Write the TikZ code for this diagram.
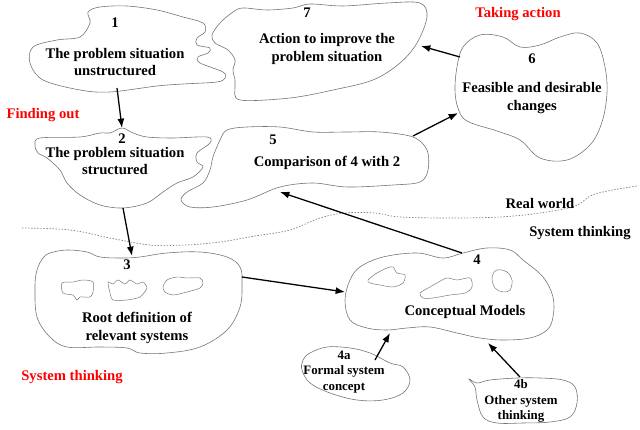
\documentclass[tikz,border=0pt]{standalone}
\usepackage{fontspec}
\setmainfont{Liberation Serif}
\usetikzlibrary{arrows.meta}
\definecolor{r255g0b0}{rgb}{1.000000,0.000000,0.000000}
\begin{document}
\begin{tikzpicture}[x=0.03cm,y=-0.03cm,
  blob/.style={draw=black!55,line width=0.5pt},
  island/.style={draw=black!55,line width=0.4pt},
  txt/.style={inner sep=0pt,align=center,font=\fontsize{12.5}{15}\selectfont\bfseries},
  smalltxt/.style={inner sep=0pt,align=center,font=\fontsize{11}{13.5}\selectfont\bfseries},
  redtxt/.style={txt,text=r255g0b0},
  flow/.style={-{Latex[length=2.8mm,width=2.1mm]},line width=1.1pt},
  border/.style={draw=black!50,line width=0.6pt,dash pattern=on 1.2pt off 1.4pt}]
\useasboundingbox (0,0) rectangle (640,430);

% Drawing cloud 1
\draw[blob] plot[smooth cycle,tension=0.55] coordinates {(88,12) (100,7) (127,6) (157,10) (183,17) (203,23) (205,32) (197,38) (197,45) (210,48) (208,53) (198,57) (200,63) (223,72) (225,78) (217,82) (183,84) (157,86) (110,92) (80,90) (43,80) (30,63) (33,47) (57,40) (80,37) (90,23)};
\node[txt] (n1) at (115,23) {1};
\node[txt] (c1) at (115,62) {The problem situation\\unstructured};

% Drawing cloud 7
\draw[blob] plot[smooth cycle,tension=0.55] coordinates {(310,4) (343,6) (387,3) (420,3) (427,17) (417,43) (400,63) (373,80) (333,90) (290,98) (240,100) (235,87) (235,80) (233,70) (235,60) (228,50) (215,43) (212,35) (220,23) (233,12) (243,8) (267,10) (293,8)};
\node[txt] (n7) at (307,13) {7};
\node[txt] (c7) at (327,49) {Action to improve the\\problem situation};

% Drawing cloud 6
\draw[blob] plot[smooth cycle,tension=0.6] coordinates {(463,47) (480,35) (503,37) (520,47) (540,45) (560,37) (580,33) (597,43) (605,67) (607,93) (602,122) (590,145) (567,160) (540,158) (520,140) (497,131) (467,121) (458,108) (455,90) (457,67)};
\node[txt] (n6) at (532,59) {6};
\node[txt] (c6) at (532,98) {Feasible and desirable\\changes};

% Drawing cloud 5
\draw[blob] plot[smooth cycle,tension=0.55] coordinates {(227,130) (247,127) (280,127) (313,132) (347,132) (380,132) (413,137) (427,150) (428,170) (420,182) (393,185) (347,187) (313,183) (280,187) (247,200) (213,207) (190,207) (181,200) (187,192) (203,183) (210,170) (213,157) (220,140)};
\node[txt] (n5) at (273,140) {5};
\node[txt] (c5) at (327,163) {Comparison of 4 with 2};

% Drawing cloud 2
\draw[blob] plot[smooth cycle,tension=0.55] coordinates {(110,133) (122,128) (133,133) (147,137) (173,138) (207,137) (210,143) (197,153) (197,162) (203,167) (193,177) (177,183) (163,192) (147,203) (123,208) (100,205) (80,195) (67,183) (60,170) (47,158) (38,153) (35,145) (40,138) (80,137) (100,133)};
\node[txt] (n2) at (122,139) {2};
\node[txt] (c2) at (115,161) {The problem situation\\structured};

% Drawing cloud 3 with its islands
\draw[blob] plot[smooth cycle,tension=0.6] coordinates {(50,253) (67,250) (87,252) (100,257) (123,258) (140,257) (167,253) (200,252) (227,257) (240,267) (242,283) (240,307) (227,330) (200,347) (167,353) (140,353) (127,348) (100,347) (67,347) (50,337) (37,317) (35,287) (37,270) (43,258)};
\draw[island] plot[smooth cycle,tension=0.5] coordinates {(62,283) (73,282) (83,280) (93,282) (93,292) (90,297) (80,297) (77,300) (73,295) (63,293)};
\draw[island] plot[smooth cycle,tension=0.4] coordinates {(108,282) (113,284) (118,280) (125,284) (130,280) (137,284) (143,282) (147,288) (140,297) (127,300) (113,300) (110,293)};
\draw[island] plot[smooth cycle,tension=0.5] coordinates {(167,280) (177,277) (187,278) (200,278) (203,283) (200,288) (187,292) (173,295) (165,292) (163,287)};
\node[txt] (n3) at (127,265) {3};
\node[txt] (c3) at (137,328) {Root definition of\\relevant systems};

% Drawing cloud 4 with its islands
\draw[blob] plot[smooth cycle,tension=0.6] coordinates {(360,267) (383,257) (417,253) (443,258) (463,253) (487,248) (510,250) (523,260) (543,277) (553,297) (553,317) (547,330) (530,338) (503,340) (480,338) (457,333) (430,327) (407,328) (387,330) (367,328) (350,320) (345,300) (350,280)};
\draw[island] plot[smooth cycle,tension=0.5] coordinates {(368,280) (377,273) (387,268) (393,267) (397,273) (405,275) (403,283) (393,287) (380,285) (370,283)};
\draw[island] plot[smooth cycle,tension=0.5] coordinates {(420,293) (430,287) (437,283) (447,278) (457,280) (470,278) (472,287) (465,293) (450,295) (433,298) (423,298)};
\draw[island] plot[smooth cycle,tension=0.6] coordinates {(492,277) (497,270) (507,272) (512,280) (510,290) (503,292) (495,288)};
\node[txt] (n4) at (477,260) {4};
\node[txt] (c4) at (465,312) {Conceptual Models};

% Drawing cloud 4a
\draw[blob] plot[smooth cycle,tension=0.6] coordinates {(310,353) (327,347) (350,348) (370,353) (390,363) (403,367) (410,380) (403,393) (383,400) (357,400) (330,393) (310,383) (302,370) (303,360)};
\node[smalltxt] (c4a) at (344,372) {4a\\Formal system\\concept};

% Drawing cloud 4b
\draw[blob] plot[smooth cycle,tension=0.6] coordinates {(469,379) (477,383) (490,380) (517,378) (540,378) (563,380) (575,387) (577,403) (570,417) (550,422) (523,423) (497,423) (483,417) (477,400) (475,387)};
\node[smalltxt] (c4b) at (521,401) {4b\\Other system\\thinking};

% Drawing border between real world and system thinking
\draw[border] plot[smooth,tension=0.6] coordinates {(22,228) (70,230) (110,238) (150,245) (185,245) (220,242) (255,236) (290,230) (320,218) (345,213) (375,213) (400,217) (450,218) (500,217) (540,213) (575,206) (595,194) (637,186)};

% Labels
\node[redtxt] (takeact) at (518,14) {Taking action};
\node[redtxt] (findout) at (43,115) {Finding out};
\node[redtxt] (systhink) at (72,377) {System thinking};
\node[txt] (realw) at (540,203) {Real world};
\node[txt] (systw) at (580,233) {System thinking};

% Arrow end points
\coordinate (out1) at (117,88);
\coordinate (in2) at (122,128);
\coordinate (out2) at (123,208);
\coordinate (in3) at (132,256);
\coordinate (out3) at (242,277);
\coordinate (in4) at (345,292);
\coordinate (out4) at (462,253);
\coordinate (in5) at (280,192);
\coordinate (out5) at (413,136);
\coordinate (in6) at (458,113);
\coordinate (out6) at (460,57);
\coordinate (in7) at (421,46);
\coordinate (out4a) at (375,360);
\coordinate (in4a) at (390,333);
\coordinate (out4b) at (520,377);
\coordinate (in4b) at (488,343);

% Drawing arrows
\draw[flow] (out1) -- (in2);
\draw[flow] (out2) -- (in3);
\draw[flow] (out3) -- (in4);
\draw[flow] (out4) -- (in5);
\draw[flow] (out5) -- (in6);
\draw[flow] (out6) -- (in7);
\draw[flow] (out4a) -- (in4a);
\draw[flow] (out4b) -- (in4b);
\end{tikzpicture}
\end{document}
